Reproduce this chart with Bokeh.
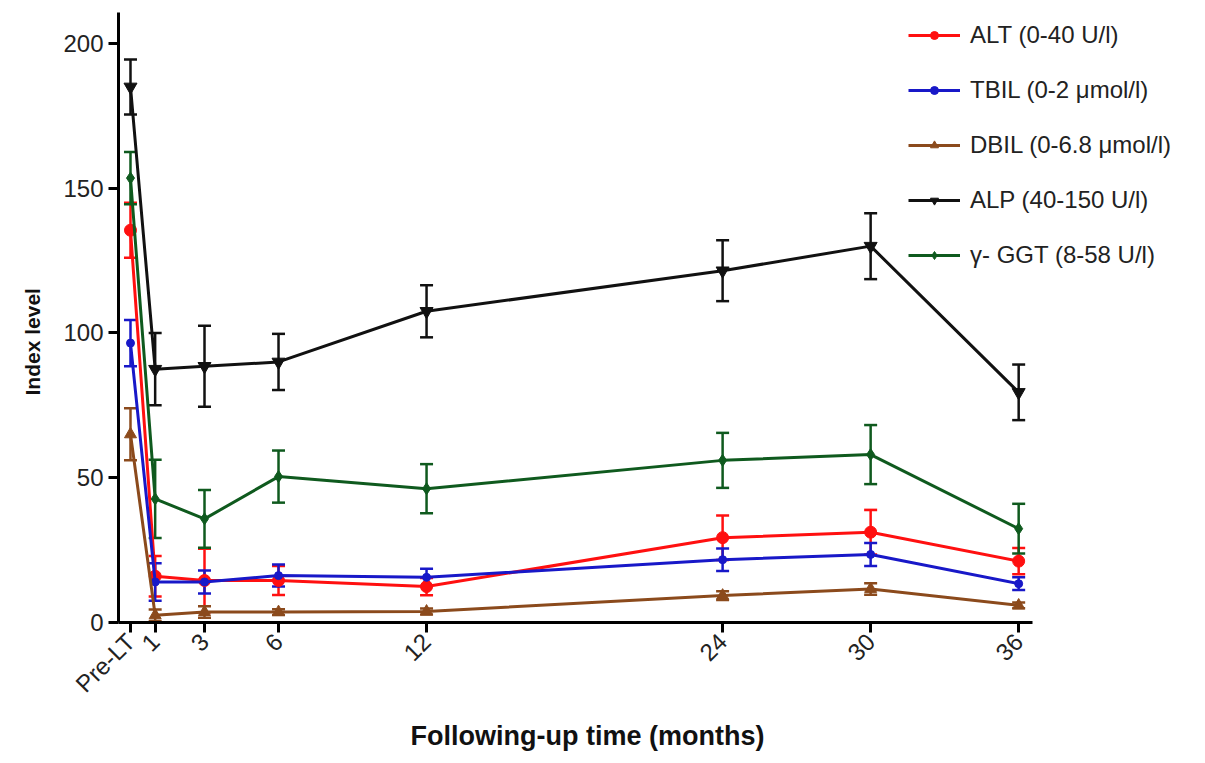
from bokeh.plotting import figure
from bokeh.models import Range1d, FixedTicker, ColumnDataSource, Whisker, TeeHead, Legend, LegendItem, Title
from bokeh.embed import file_html
from bokeh.resources import INLINE

months = [0, 1, 3, 6, 12, 24, 30, 36]
tick_labels = ["Pre-LT", "1", "3", "6", "12", "24", "30", "36"]

alt = [135.5, 16.0, 14.5, 14.5, 12.4, 29.3, 31.2, 21.2]
alt_err = [9.5, 7.0, 11.0, 5.0, 3.0, 7.7, 7.7, 4.5]
tbil = [96.5, 14.0, 14.0, 16.2, 15.6, 21.7, 23.5, 13.4]
tbil_err = [8.0, 6.5, 4.0, 3.8, 3.0, 3.9, 4.0, 2.2]
dbil = [65.0, 2.5, 3.6, 3.6, 3.8, 9.3, 11.6, 5.9]
dbil_err = [9.0, 2.0, 2.0, 1.0, 1.0, 1.5, 2.0, 1.0]
alp = [185.0, 87.5, 88.5, 90.0, 107.5, 121.5, 130.0, 79.5]
alp_err = [9.5, 12.5, 14.0, 9.7, 9.0, 10.5, 11.4, 9.6]
ggt = [153.5, 42.7, 35.8, 50.4, 46.2, 56.0, 58.0, 32.4]
ggt_err = [9.0, 13.5, 10.0, 9.0, 8.5, 9.5, 10.2, 8.6]

series = [
    ("ALT (0-40 U/l)", alt, alt_err, "#FF1010", "circle", 12),
    ("TBIL (0-2 \u03bcmol/l)", tbil, tbil_err, "#1818C8", "circle", 8),
    ("DBIL (0-6.8 \u03bcmol/l)", dbil, dbil_err, "#8B4A1C", "triangle", 12),
    ("ALP (40-150 U/l)", alp, alp_err, "#111111", "inverted_triangle", 13),
    ("\u03b3- GGT (8-58 U/l)", ggt, ggt_err, "#0F5A1E", "diamond", 12),
]

FONT = "Liberation Sans"

p = figure(width=1200, height=758, output_backend="svg", toolbar_location=None,
           x_range=Range1d(-0.486, 43.37), y_range=Range1d(0, 210.7),
           min_border_left=118, min_border_right=0, min_border_top=12, min_border_bottom=136)
p.outline_line_color = None
p.xgrid.grid_line_color = None
p.ygrid.grid_line_color = None
p.background_fill_color = "white"
p.border_fill_color = "white"

items = []
for label, vals, errs, color, marker, size in series:
    src = ColumnDataSource(dict(x=months, y=vals,
                                lo=[v - e for v, e in zip(vals, errs)],
                                hi=[v + e for v, e in zip(vals, errs)]))
    w = Whisker(source=src, base="x", upper="hi", lower="lo", dimension="height",
                line_color=color, line_width=2.5,
                upper_head=TeeHead(size=13, line_color=color, line_width=2.5),
                lower_head=TeeHead(size=13, line_color=color, line_width=2.5))
    p.add_layout(w)
    r1 = p.line("x", "y", source=src, line_color=color, line_width=3)
    r2 = p.scatter("x", "y", source=src, marker=marker, size=size,
                   fill_color=color, line_color=color)
    items.append(LegendItem(label=label, renderers=[r1, r2]))

legend = Legend(items=items, location=(790, 353), padding=0, margin=0,
                spacing=27, glyph_width=52, glyph_height=20, label_height=20,
                label_standoff=10, border_line_alpha=0, background_fill_alpha=0,
                label_text_font=FONT, label_text_font_size="24px",
                label_text_color="#222222")
p.add_layout(legend)

# axes
p.xaxis.ticker = FixedTicker(ticks=months)
p.xaxis.major_label_overrides = {m: t for m, t in zip(months, tick_labels)}
p.xaxis.major_label_orientation = 0.785
p.xaxis.bounds = (-0.486, 36.57)
p.yaxis.ticker = FixedTicker(ticks=[0, 50, 100, 150, 200])
for ax in (p.xaxis[0], p.yaxis[0]):
    ax.axis_line_width = 3
    ax.axis_line_color = "black"
    ax.major_tick_line_width = 3
    ax.major_tick_line_color = "black"
    ax.major_tick_out = 10
    ax.major_tick_in = 0
    ax.minor_tick_line_color = None
    ax.major_label_text_font = FONT
    ax.major_label_text_font_size = "24px"
    ax.major_label_text_color = "#222222"
    ax.major_label_standoff = 5

xt = Title(text="Following-up time (months)", align="left", offset=292,
           text_font=FONT, text_font_style="bold", text_font_size="27px",
           text_color="#111111", standoff=16)
p.add_layout(xt, "below")
yt = Title(text="Index level", align="left", offset=227, vertical_align="top",
           text_font=FONT, text_font_style="bold", text_font_size="21px",
           text_color="#111111", standoff=30)
p.add_layout(yt, "left")

open("out.html", "w").write(file_html(p, INLINE))
